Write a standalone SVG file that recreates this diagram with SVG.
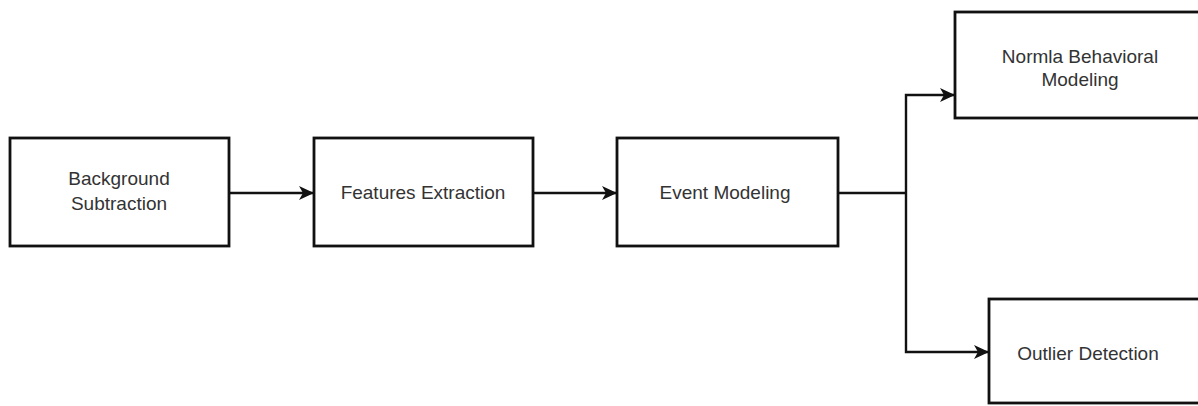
<svg xmlns="http://www.w3.org/2000/svg" width="1198" height="406" viewBox="0 0 1198 406">
<style>
.box{fill:#fff;stroke:#111;stroke-width:2.8}
.lbl{font-family:"Liberation Sans",Arial,sans-serif;font-size:19px;fill:#333;text-anchor:middle}
.con{fill:none;stroke:#111;stroke-width:2.4}
</style>
<defs>
<marker id="ah" markerWidth="15" markerHeight="14" refX="14" refY="7" orient="auto" markerUnits="userSpaceOnUse" viewBox="0 0 15 14">
<path d="M0,0 L15,7 L0,14 L4,7 Z" fill="#111"/>
</marker>
</defs>
<rect width="1198" height="406" fill="#fff"/>
<g id="connectors">
<line class="con" x1="229" y1="193" x2="313" y2="193" marker-end="url(#ah)"/>
<line class="con" x1="533" y1="193" x2="616" y2="193" marker-end="url(#ah)"/>
<polyline class="con" points="838,193 906,193"/>
<polyline class="con" points="906,193 906,95 954,95" marker-end="url(#ah)"/>
<polyline class="con" points="906,193 906,352 988,352" marker-end="url(#ah)"/>
</g>
<g id="background-subtraction">
<rect class="box" x="10" y="138" width="219" height="108"/>
<text class="lbl" x="119" y="185">Background</text>
<text class="lbl" x="119" y="210">Subtraction</text>
</g>
<g id="features-extraction">
<rect class="box" x="314" y="138" width="219" height="108"/>
<text class="lbl" x="423" y="199">Features Extraction</text>
</g>
<g id="event-modeling">
<rect class="box" x="617" y="138" width="221" height="108"/>
<text class="lbl" x="725" y="199">Event Modeling</text>
</g>
<g id="normal-behavioral-modeling">
<rect class="box" x="955" y="12" width="260" height="106"/>
<text class="lbl" x="1080" y="63">Normla Behavioral</text>
<text class="lbl" x="1080" y="86">Modeling</text>
</g>
<g id="outlier-detection">
<rect class="box" x="989" y="299" width="240" height="104"/>
<text class="lbl" x="1088" y="360">Outlier Detection</text>
</g>
</svg>
